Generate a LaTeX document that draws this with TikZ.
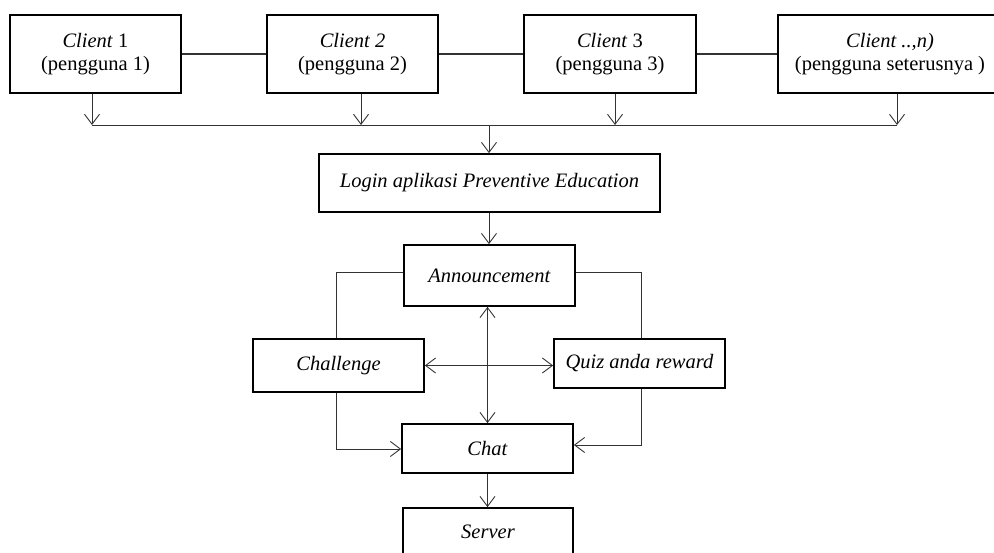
\documentclass[tikz,border=0pt]{standalone}
\usepackage{fontspec}
\setmainfont{Liberation Serif}
\usetikzlibrary{arrows.meta}
\begin{document}
\begin{tikzpicture}[x=1pt,y=-1pt,
  box/.style={draw=black,line width=1.8pt,inner sep=0pt,align=center,
    font=\fontsize{20.5}{23}\selectfont},
  conn/.style={draw=black!80,line width=0.9pt},
  arr/.style={conn,-{Straight Barb[length=10pt,width=15pt,line width=0.9pt]}},
  darr/.style={conn,{Straight Barb[length=10pt,width=15pt,line width=0.9pt]}-{Straight Barb[length=10pt,width=15pt,line width=0.9pt]}}]
\useasboundingbox (0,0) rectangle (994,553);
\clip (0,0) rectangle (994,553);
% clients
\node[box,minimum width=171pt,minimum height=78pt] (c1) at (95.5,54) {\textit{Client} 1\\(pengguna 1)};
\node[box,minimum width=171pt,minimum height=78pt] (c2) at (352.5,54) {\textit{Client 2}\\(pengguna 2)};
\node[box,minimum width=172pt,minimum height=78pt] (c3) at (610,54) {\textit{Client} 3\\(pengguna 3)};
\node[box,minimum width=224pt,minimum height=78pt] (cn) at (890,54) {\textit{Client ..,n)}\\(pengguna seterusnya )};
% middle
\node[box,minimum width=341pt,minimum height=58pt] (login) at (489.5,183) {\textit{Login aplikasi Preventive Education}};
\node[box,minimum width=171pt,minimum height=61pt] (ann) at (489.5,275.5) {\textit{Announcement}};
\node[box,minimum width=171pt,minimum height=53pt] (ch) at (338.5,365.5) {\textit{Challenge}};
\node[box,minimum width=171pt,minimum height=49pt] (qz) at (639.5,363.5) {\textit{Quiz anda reward}};
\node[box,minimum width=171pt,minimum height=49pt] (chat) at (487.5,448.5) {\textit{Chat}};
\node[box,minimum width=170pt,minimum height=50pt] (srv) at (488,533) {\raisebox{-5pt}[0pt][0pt]{\textit{Server}}};
% client links
\draw[conn,line width=1.6pt] (c1) -- (c2);
\draw[conn,line width=1.6pt] (c2) -- (c3);
\draw[conn,line width=1.6pt] (c3) -- (cn);
% bus
\coordinate (j1) at (92,125);
\coordinate (j2) at (361,125);
\coordinate (j3) at (615,125);
\coordinate (jn) at (897,125);
\coordinate (jm) at (489,125);
\draw[arr] (c1.south -| j1) -- (j1);
\draw[arr] (c2.south -| j2) -- (j2);
\draw[arr] (c3.south -| j3) -- (j3);
\draw[arr] (cn.south -| jn) -- (jn);
\draw[conn] (j1) -- (jn);
\draw[arr] (jm) -- (login.north -| jm);
\draw[arr] (login.south -| jm) -- (ann.north -| jm);
% announcement side lines
\coordinate (al) at (336,272);
\coordinate (ar) at (641,272);
\draw[conn] (ann.west |- al) -- (al) -- (ch.north -| al);
\draw[conn] (ann.east |- ar) -- (ar) -- (qz.north -| ar);
% double arrows
\draw[darr] (chat.north |- ann.south) -- (chat.north);
\draw[darr] (ch.east) -- (qz.west |- ch.east);
% to chat
\coordinate (cl) at (336,449);
\coordinate (cr) at (641,445);
\draw[arr] (ch.south -| cl) -- (cl) -- (chat.west |- cl);
\draw[arr] (qz.south -| cr) -- (cr) -- (chat.east |- cr);
\draw[arr] (chat.south) -- (srv.north -| chat.south);
\end{tikzpicture}
\end{document}
